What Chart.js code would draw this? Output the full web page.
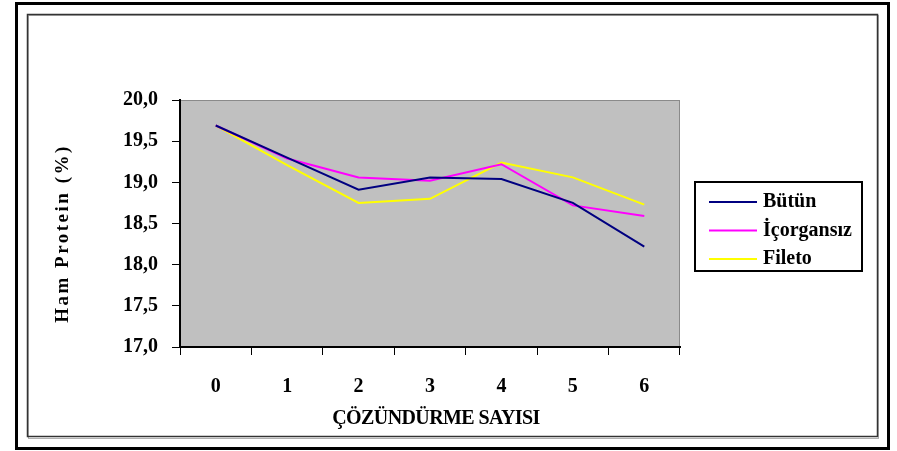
<!DOCTYPE html>
<html>
<head>
<meta charset="utf-8">
<script src="https://cdn.jsdelivr.net/npm/chart.js@4"></script>
<style>
  html, body { margin: 0; padding: 0; background: #fff; }
  #wrap { width: 897px; height: 451px; }
</style>
</head>
<body>
<div id="wrap"><canvas id="chart" width="897" height="451"></canvas></div>
<script>
const categories = ['0', '1', '2', '3', '4', '5', '6'];
const butun = [19.69, 19.30, 18.91, 19.06, 19.04, 18.75, 18.22];
const icorgansiz = [19.69, 19.29, 19.06, 19.02, 19.22, 18.72, 18.59];
const fileto = [19.69, 19.21, 18.75, 18.80, 19.24, 19.06, 18.73];
const seriesNames = ['Bütün', 'İçorgansız', 'Fileto'];
const seriesColors = ['#000080', '#ff00ff', '#ffff00'];
const yTicks = [17.0, 17.5, 18.0, 18.5, 19.0, 19.5, 20.0];
const xTitle = 'ÇÖZÜNDÜRME SAYISI';
const yTitle = 'Ham Protein (%)';

const serif = '"Liberation Serif", "Times New Roman", serif';

const framePlugin = {
    id: 'frame',
    beforeDraw(chart) {
        const { ctx, chartArea } = chart;
        ctx.save();
        ctx.fillStyle = '#c0c0c0';
        ctx.fillRect(chartArea.left, chartArea.top, chartArea.right - chartArea.left, chartArea.bottom - chartArea.top);
        ctx.strokeStyle = '#8a8a8a';
        ctx.lineWidth = 1;
        ctx.strokeRect(chartArea.left + 0.5, chartArea.top + 0.5, chartArea.right - chartArea.left - 1, chartArea.bottom - chartArea.top - 1);
        ctx.restore();
    },
    afterDraw(chart) {
        const { ctx, chartArea } = chart;
        ctx.save();
        // outer frame
        ctx.strokeStyle = '#000';
        ctx.lineWidth = 3;
        ctx.strokeRect(16.5, 3.5, 872, 445);
        // inner frame
        ctx.strokeStyle = '#b0b0b0';
        ctx.lineWidth = 1;
        ctx.strokeRect(28.5, 15.5, 850, 423);
        ctx.strokeStyle = '#333';
        ctx.lineWidth = 1.5;
        ctx.strokeRect(27.5, 14.5, 850, 422);

        // axis titles
        ctx.fillStyle = '#000';
        ctx.textAlign = 'center';
        ctx.textBaseline = 'middle';
        ctx.font = 'bold 20px ' + serif;
        ctx.letterSpacing = '-0.6px';
        ctx.fillText(xTitle, (chartArea.left + chartArea.right) / 2 + 6, 419);
        ctx.save();
        ctx.translate(63, (chartArea.top + chartArea.bottom) / 2 + 10);
        ctx.rotate(-Math.PI / 2);
        ctx.font = 'bold 19px ' + serif;
        ctx.letterSpacing = '2.5px';
        ctx.fillText(yTitle, 0, 0);
        ctx.restore();
        ctx.letterSpacing = '0px';

        // legend
        const lx = 695, ly = 182, lw = 167, lh = 89;
        ctx.fillStyle = '#fff';
        ctx.fillRect(lx, ly, lw, lh);
        ctx.strokeStyle = '#000';
        ctx.lineWidth = 2;
        ctx.strokeRect(lx, ly, lw, lh);
        ctx.font = 'bold 20px ' + serif;
        ctx.textAlign = 'left';
        ctx.textBaseline = 'middle';
        chart.data.datasets.forEach((ds, i) => {
            const y = ly + 20 + i * 28.5;
            ctx.strokeStyle = ds.borderColor;
            ctx.lineWidth = 2;
            ctx.beginPath();
            ctx.moveTo(lx + 14, y);
            ctx.lineTo(lx + 62, y);
            ctx.stroke();
            ctx.fillStyle = '#000';
            ctx.fillText(ds.label, lx + 68, y);
        });
        ctx.restore();
    }
};

new Chart(document.getElementById('chart'), {
    type: 'line',
    data: {
        labels: categories,
        datasets: [butun, icorgansiz, fileto].map((values, i) => ({
            label: seriesNames[i],
            data: values,
            borderColor: seriesColors[i],
            backgroundColor: seriesColors[i],
            borderWidth: 2,
            pointRadius: 0,
            tension: 0
        }))
    },
    options: {
        responsive: false,
        animation: false,
        layout: { padding: { left: 40, top: 100, right: 217, bottom: 20 } },
        plugins: { legend: { display: false }, tooltip: { enabled: false } },
        scales: {
            x: {
                offset: true,
                grid: { offset: true, drawOnChartArea: false, drawTicks: true, tickLength: 8, color: '#000', lineWidth: 1 },
                border: { color: '#000', width: 2 },
                ticks: { color: '#000', font: { family: serif, size: 20, weight: 'bold' }, padding: 20 },
                afterFit(scale) { scale.height = 84; }
            },
            y: {
                min: 17,
                max: 20,
                afterBuildTicks(scale) { scale.ticks = yTicks.map((v) => ({ value: v })); },
                grid: { drawOnChartArea: false, drawTicks: true, tickLength: 8, color: '#000' },
                border: { color: '#000', width: 2 },
                ticks: {
                    color: '#000',
                    font: { family: serif, size: 20, weight: 'bold' },
                    padding: 14,
                    callback: (v) => Number(v).toFixed(1).replace('.', ',')
                },
                afterFit(scale) { scale.width = 140; }
            }
        }
    },
    plugins: [framePlugin]
});
</script>
</body>
</html>
